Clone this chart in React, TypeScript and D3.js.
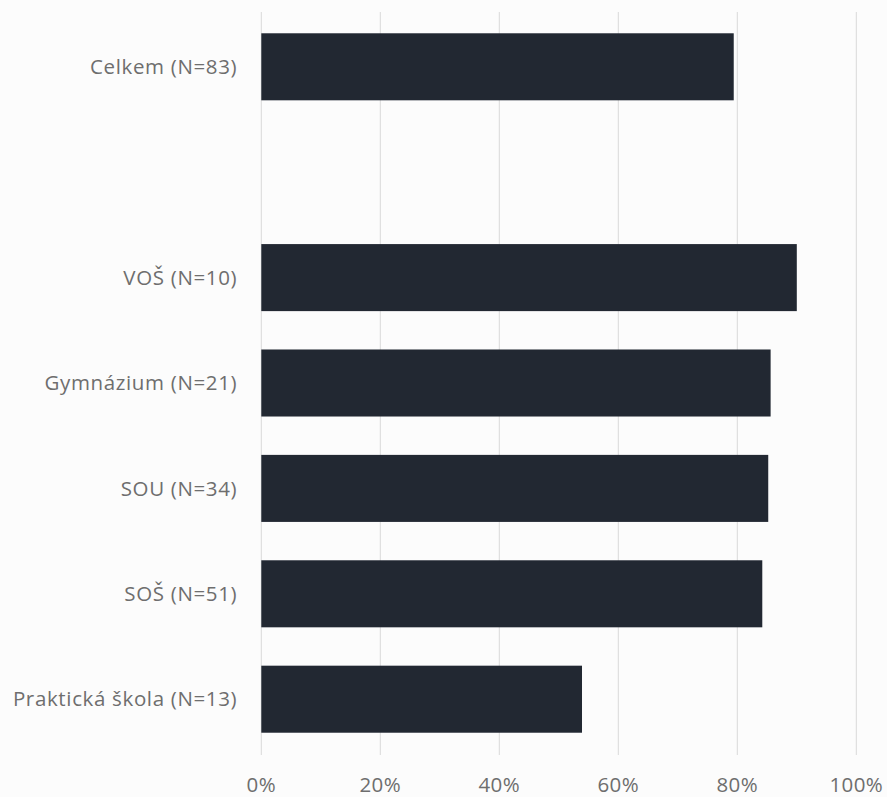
import React from "react";
import * as d3 from "d3";

const categories = [
  "Celkem (N=83)",
  "",
  "VOŠ (N=10)",
  "Gymnázium (N=21)",
  "SOU (N=34)",
  "SOŠ (N=51)",
  "Praktická škola (N=13)",
];
const values: (number | null)[] = [0.794, null, 0.9, 0.856, 0.852, 0.842, 0.539];
const xTicks = [0, 0.2, 0.4, 0.6, 0.8, 1.0];

const W = 887;
const H = 797;

export default function App() {
  const x = d3.scaleLinear().domain([0, 1]).range([261.3, 856.3]);
  const y = d3
    .scaleBand<number>()
    .domain(categories.map((_, i) => i))
    .range([14.1, 751.9])
    .paddingInner(0.364)
    .paddingOuter(0.182);
  const fmt = d3.format(".0%");
  const font = "'Open Sans', 'Noto Sans', sans-serif";
  return (
    <svg
      width={W}
      height={H}
      style={{ position: "absolute", left: 0, top: 0, background: "#fcfcfc" }}
    >
      <rect x={0} y={0} width={W} height={H} fill="#fcfcfc" />
      {xTicks.map((t) => (
        <line
          key={t}
          x1={x(t)}
          x2={x(t)}
          y1={12}
          y2={755}
          stroke="#d9d9d9"
          strokeWidth={1}
        />
      ))}
      {categories.map((c, i) =>
        values[i] == null ? null : (
          <rect
            key={i}
            x={x(0)}
            y={y(i)!}
            width={x(values[i] as number) - x(0)}
            height={y.bandwidth()}
            fill="#222832"
          />
        )
      )}
      {categories.map((c, i) =>
        c ? (
          <text
            key={"l" + i}
            x={x(0) - 24}
            y={y(i)! + y.bandwidth() / 2}
            dy="0.35em"
            textAnchor="end"
            fontFamily={font}
            fontSize={20.5}
            letterSpacing={0.65}
            fill="#6e6e6e"
          >
            {c}
          </text>
        ) : null
      )}
      {xTicks.map((t) => (
        <text
          key={"t" + t}
          x={x(t)}
          y={791.5}
          textAnchor="middle"
          fontFamily={font}
          fontSize={20.5}
          letterSpacing={0.4}
          fill="#6e6e6e"
        >
          {fmt(t)}
        </text>
      ))}
    </svg>
  );
}
